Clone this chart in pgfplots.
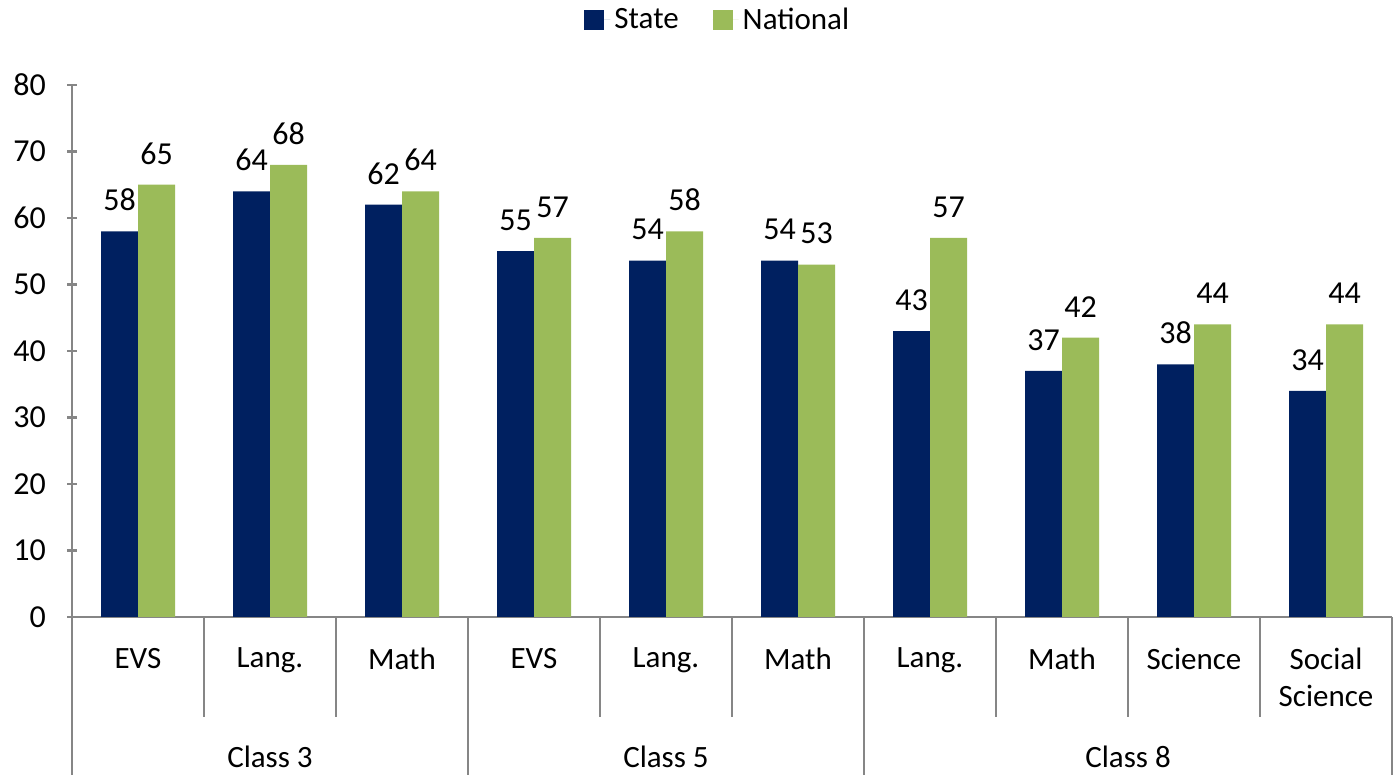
\documentclass[border=0pt]{standalone}
\usepackage{fontspec}
\setmainfont{Carlito}
\usepackage{pgfplots}
\pgfplotsset{compat=1.18}
\definecolor{statecol}{RGB}{0,32,96}
\definecolor{natcol}{RGB}{155,187,89}
\definecolor{axgray}{RGB}{134,134,134}

\begin{document}
\begin{tikzpicture}
\begin{axis}[
  scale only axis,
  width=660pt, height=266pt,
  ybar=0pt, bar width=18.5pt,
  xmin=-0.5, xmax=9.5, ymin=0, ymax=80,
  ytick={0,10,...,80},
  xtick={0,...,9},
  xticklabels={EVS,Lang.,Math,EVS,Lang.,Math,Lang.,Math,Science,Social\\Science},
  xticklabel style={align=center, anchor=north, yshift=-9.5pt,
    font=\fontsize{15.5}{18.5}\selectfont},
  yticklabel style={font=\fontsize{16}{19}\selectfont, xshift=-7pt},
  x tick style={draw=none},
  y tick style={axgray, line width=1.2pt},
  tick align=outside, major tick length=5pt,
  axis lines=left,
  axis line style={-, axgray, line width=1.2pt},
  /pgf/number format/assume math mode=true,
  nodes near coords={\pgfmathprintnumber[fixed,precision=0]{\pgfplotspointmeta}},
  nodes near coords style={font=\fontsize{16}{19}\selectfont, anchor=south, inner sep=0pt, yshift=10pt},
  legend columns=2,
  legend style={draw=none, fill=none, at={(0.49,1)}, anchor=center, yshift=32.5pt,
    font=\fontsize{15.5}{18}\selectfont, /tikz/every even column/.append style={column sep=15pt}},
  legend image code/.code={\fill[#1] (0pt,-5pt) rectangle (10pt,5pt); \path (0pt,0pt) -- (13pt,0pt);},
  clip=false,
]
\addplot[fill=statecol, draw=none] coordinates {
  (0,58) (1,64) (2,62) (3,55) (4,53.6) (5,53.6) (6,43) (7,37) (8,38) (9,34)};
\addlegendentry{State}
\addplot[fill=natcol, draw=none] coordinates {
  (0,65) (1,68) (2,64) (3,57) (4,58) (5,53) (6,57) (7,42) (8,44) (9,44)};
\addlegendentry{National}

% multi-level category separators
\pgfplotsinvokeforeach{0.5,1.5,3.5,4.5,6.5,7.5,8.5}{
  \draw[axgray, line width=1.2pt] (axis cs:#1,0) -- ([yshift=-50pt]axis cs:#1,0);
}
\pgfplotsinvokeforeach{-0.5,2.5,5.5,9.5}{
  \draw[axgray, line width=1.2pt] (axis cs:#1,0) -- ([yshift=-79pt]axis cs:#1,0);
}
\node[font=\fontsize{15.5}{18}\selectfont] at ([yshift=-70pt]axis cs:1,0) {Class 3};
\node[font=\fontsize{15.5}{18}\selectfont] at ([yshift=-70pt]axis cs:4,0) {Class 5};
\node[font=\fontsize{15.5}{18}\selectfont] at ([yshift=-70pt]axis cs:7.5,0) {Class 8};
\coordinate (sw) at (rel axis cs:0,0);
\coordinate (ne) at (rel axis cs:1,1);
\end{axis}
\pgfresetboundingbox
\path ([shift={(-36pt,-79pt)}]sw) rectangle ([shift={(3.5pt,42.5pt)}]ne);
\end{tikzpicture}
\end{document}
